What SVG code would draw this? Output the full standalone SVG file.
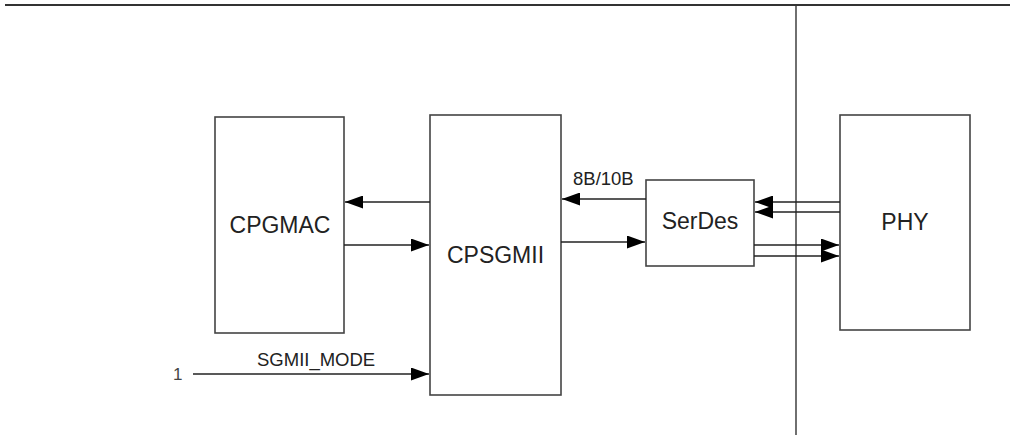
<svg xmlns="http://www.w3.org/2000/svg" width="1010" height="435" viewBox="0 0 1010 435">
<style>
.box{fill:#fff;stroke:#444;stroke-width:1.6}
.ln{stroke:#222;stroke-width:1.4;fill:none}
.sep{stroke:#333;stroke-width:1.4;fill:none}
.t{font-family:"Liberation Sans",Arial,sans-serif;fill:#222}
.big{font-size:23px;text-anchor:middle}
.sm{font-size:17px}
</style>
<defs>
<marker id="ah" markerUnits="userSpaceOnUse" markerWidth="18" markerHeight="13" refX="18" refY="6.5" orient="auto">
<path d="M0,0 L18,6.5 L0,13 Z" fill="#000"/>
</marker>
</defs>
<rect width="1010" height="435" fill="#fff"/>
<g id="frame">
<line class="sep" x1="5" y1="5" x2="1010" y2="5" style="stroke-width:2"/>
<line class="sep" x1="796" y1="6" x2="796" y2="435"/>
</g>
<g id="cpgmac">
<rect class="box" x="215" y="117" width="129" height="216"/>
<text class="t big" x="280" y="233">CPGMAC</text>
</g>
<g id="cpsgmii">
<rect class="box" x="430" y="115" width="131" height="280"/>
<text class="t big" x="495.5" y="263">CPSGMII</text>
</g>
<g id="serdes">
<rect class="box" x="646" y="180" width="108" height="86"/>
<text class="t big" x="700" y="229">SerDes</text>
</g>
<g id="phy">
<rect class="box" x="840" y="115" width="130" height="215"/>
<text class="t big" x="905" y="230">PHY</text>
</g>
<g id="connectors">
<line class="ln" x1="430" y1="202" x2="345" y2="202" marker-end="url(#ah)"/>
<line class="ln" x1="344" y1="245" x2="429" y2="245" marker-end="url(#ah)"/>
<line class="ln" x1="646" y1="199" x2="562" y2="199" marker-end="url(#ah)"/>
<line class="ln" x1="561" y1="242" x2="645" y2="242" marker-end="url(#ah)"/>
<line class="ln" x1="840" y1="202" x2="755" y2="202" marker-end="url(#ah)"/>
<line class="ln" x1="840" y1="212" x2="755" y2="212" marker-end="url(#ah)"/>
<line class="ln" x1="754" y1="245" x2="839" y2="245" marker-end="url(#ah)"/>
<line class="ln" x1="754" y1="256" x2="839" y2="256" marker-end="url(#ah)"/>
<line class="ln" x1="193" y1="374" x2="429" y2="374" marker-end="url(#ah)"/>
</g>
<g id="labels">
<text class="t sm" x="573" y="185" style="font-size:18.5px">8B/10B</text>
<text class="t sm" x="257" y="366" style="font-size:18.5px">SGMII_MODE</text>
<text class="t sm" x="173" y="380" style="font-size:17px;fill:#444">1</text>
</g>
</svg>
